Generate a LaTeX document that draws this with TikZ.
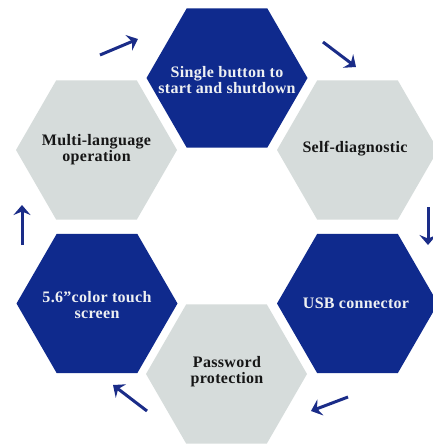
\documentclass[tikz,border=0pt]{standalone}
\usepackage{fontspec}
\setmainfont{Liberation Serif}[LetterSpace=2]
\usetikzlibrary{shapes.geometric,arrows.meta}
\definecolor{hexblue}{HTML}{0F2A8D}
\definecolor{hexgray}{HTML}{D6DCDB}
\definecolor{arrowblue}{HTML}{1A2C88}
\definecolor{hexwhite}{HTML}{EEF0F2}
\definecolor{hextext}{HTML}{161616}
\begin{document}
\begin{tikzpicture}[x=1pt,y=-1pt,
  hexbase/.style={regular polygon, regular polygon sides=6, minimum size=161pt, inner sep=0pt, outer sep=0pt},
  hexdark/.style={hexbase, fill=hexblue},
  hexlight/.style={hexbase, fill=hexgray},
  lbl/.style={align=center, inner sep=0pt, font=\fontsize{16}{16}\selectfont\bfseries},
  lbldark/.style={lbl, text=hexwhite},
  lbllight/.style={lbl, text=hextext},
  flow/.style={line width=3pt, arrowblue, -{Stealth[length=10pt,width=17pt,inset=3.5pt]}}]
\useasboundingbox (0,0) rectangle (433,445);
\fill[white] (0,0) rectangle (433,445);
% hexagons
\node[hexdark]  (single) at (227,78)  {};
\node[hexlight] (self)   at (357.5,150) {};
\node[hexdark]  (usb)    at (357.5,303.5) {};
\node[hexlight] (pass)   at (226.5,374) {};
\node[hexdark]  (touch)  at (97,303.5) {};
\node[hexlight] (multi)  at (96.5,150) {};
% labels
\node[lbldark]  (tsingle) at (227,80)  {Single button to\\start and shutdown};
\node[lbllight] (tself)   at (355,149) {Self-diagnostic};
\node[lbldark]  (tusb)    at (356,303) {USB connector};
\node[lbllight] (tpass)   at (227,372) {Password\\protection};
\node[lbldark]  (ttouch)  at (97,305)  {5.6”color touch\\screen};
\node[lbllight] (tmulti)  at (96.5,150) {Multi-language\\operation};
% arrows
\coordinate (a1s) at (100,55);  \coordinate (a1e) at (138,39);
\coordinate (a2s) at (323,42);  \coordinate (a2e) at (356,67);
\coordinate (a3s) at (428,207); \coordinate (a3e) at (428,245);
\coordinate (a4s) at (348,397); \coordinate (a4e) at (311,411);
\coordinate (a5s) at (147,411); \coordinate (a5e) at (113,385);
\coordinate (a6s) at (22,245);  \coordinate (a6e) at (22,205);
\draw[flow] (a1s) -- (a1e);
\draw[flow] (a2s) -- (a2e);
\draw[flow] (a3s) -- (a3e);
\draw[flow] (a4s) -- (a4e);
\draw[flow] (a5s) -- (a5e);
\draw[flow] (a6s) -- (a6e);
\end{tikzpicture}
\end{document}
